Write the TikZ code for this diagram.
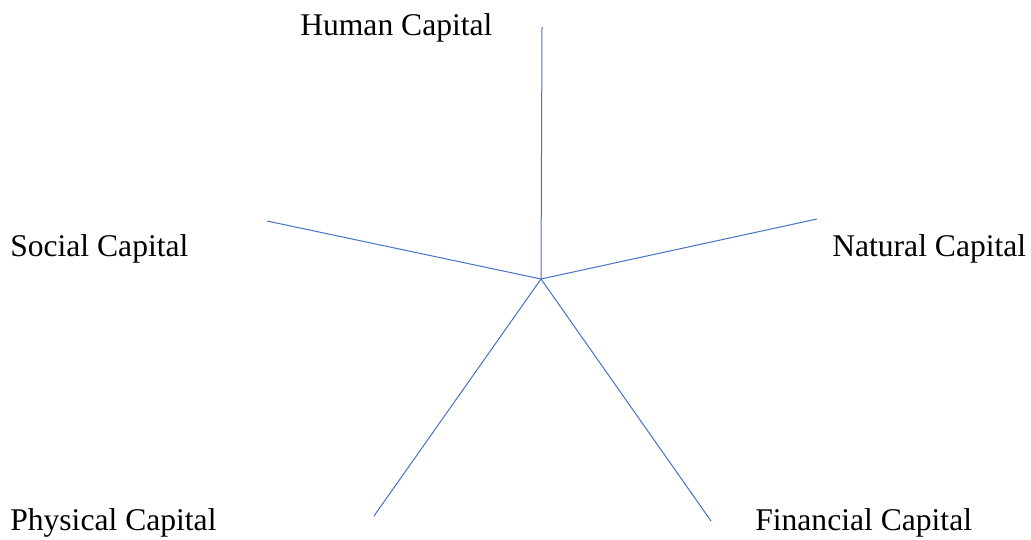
\documentclass[tikz,border=0pt]{standalone}
\usepackage{fontspec}
\setmainfont{Liberation Serif}
\usepackage{tikz}
\usetikzlibrary{positioning}
\definecolor{spokeblue}{HTML}{4472C4}

\begin{document}
\begin{tikzpicture}[x=0.75pt,y=-0.75pt,
  lbl/.style={anchor=base west,inner sep=0pt,font=\fontsize{23.7}{28}\selectfont},
  spoke/.style={draw=spokeblue,line width=0.75pt}]
\useasboundingbox (0,0) rectangle (1031,539);
% ---- hub and spoke ends ----
\coordinate (hub) at (541,279);
\coordinate (eH) at (542,27);
\coordinate (eS) at (267,221);
\coordinate (eN) at (817,219);
\coordinate (eP) at (374,516);
\coordinate (eF) at (711,521);
\foreach \e in {eH,eS,eN,eP,eF}{
  \draw[spoke] (hub)--(\e);}
% ---- labels ----
\node[lbl] (human) at (300,35) {Human Capital};
\node[lbl] (social) at (10,256) {Social Capital};
\node[lbl] (natural) at (832,256) {Natural Capital};
\node[lbl] (physical) at (10,530) {Physical Capital};
\node[lbl] (financial) at (755,530) {Financial Capital};
\end{tikzpicture}
\end{document}
